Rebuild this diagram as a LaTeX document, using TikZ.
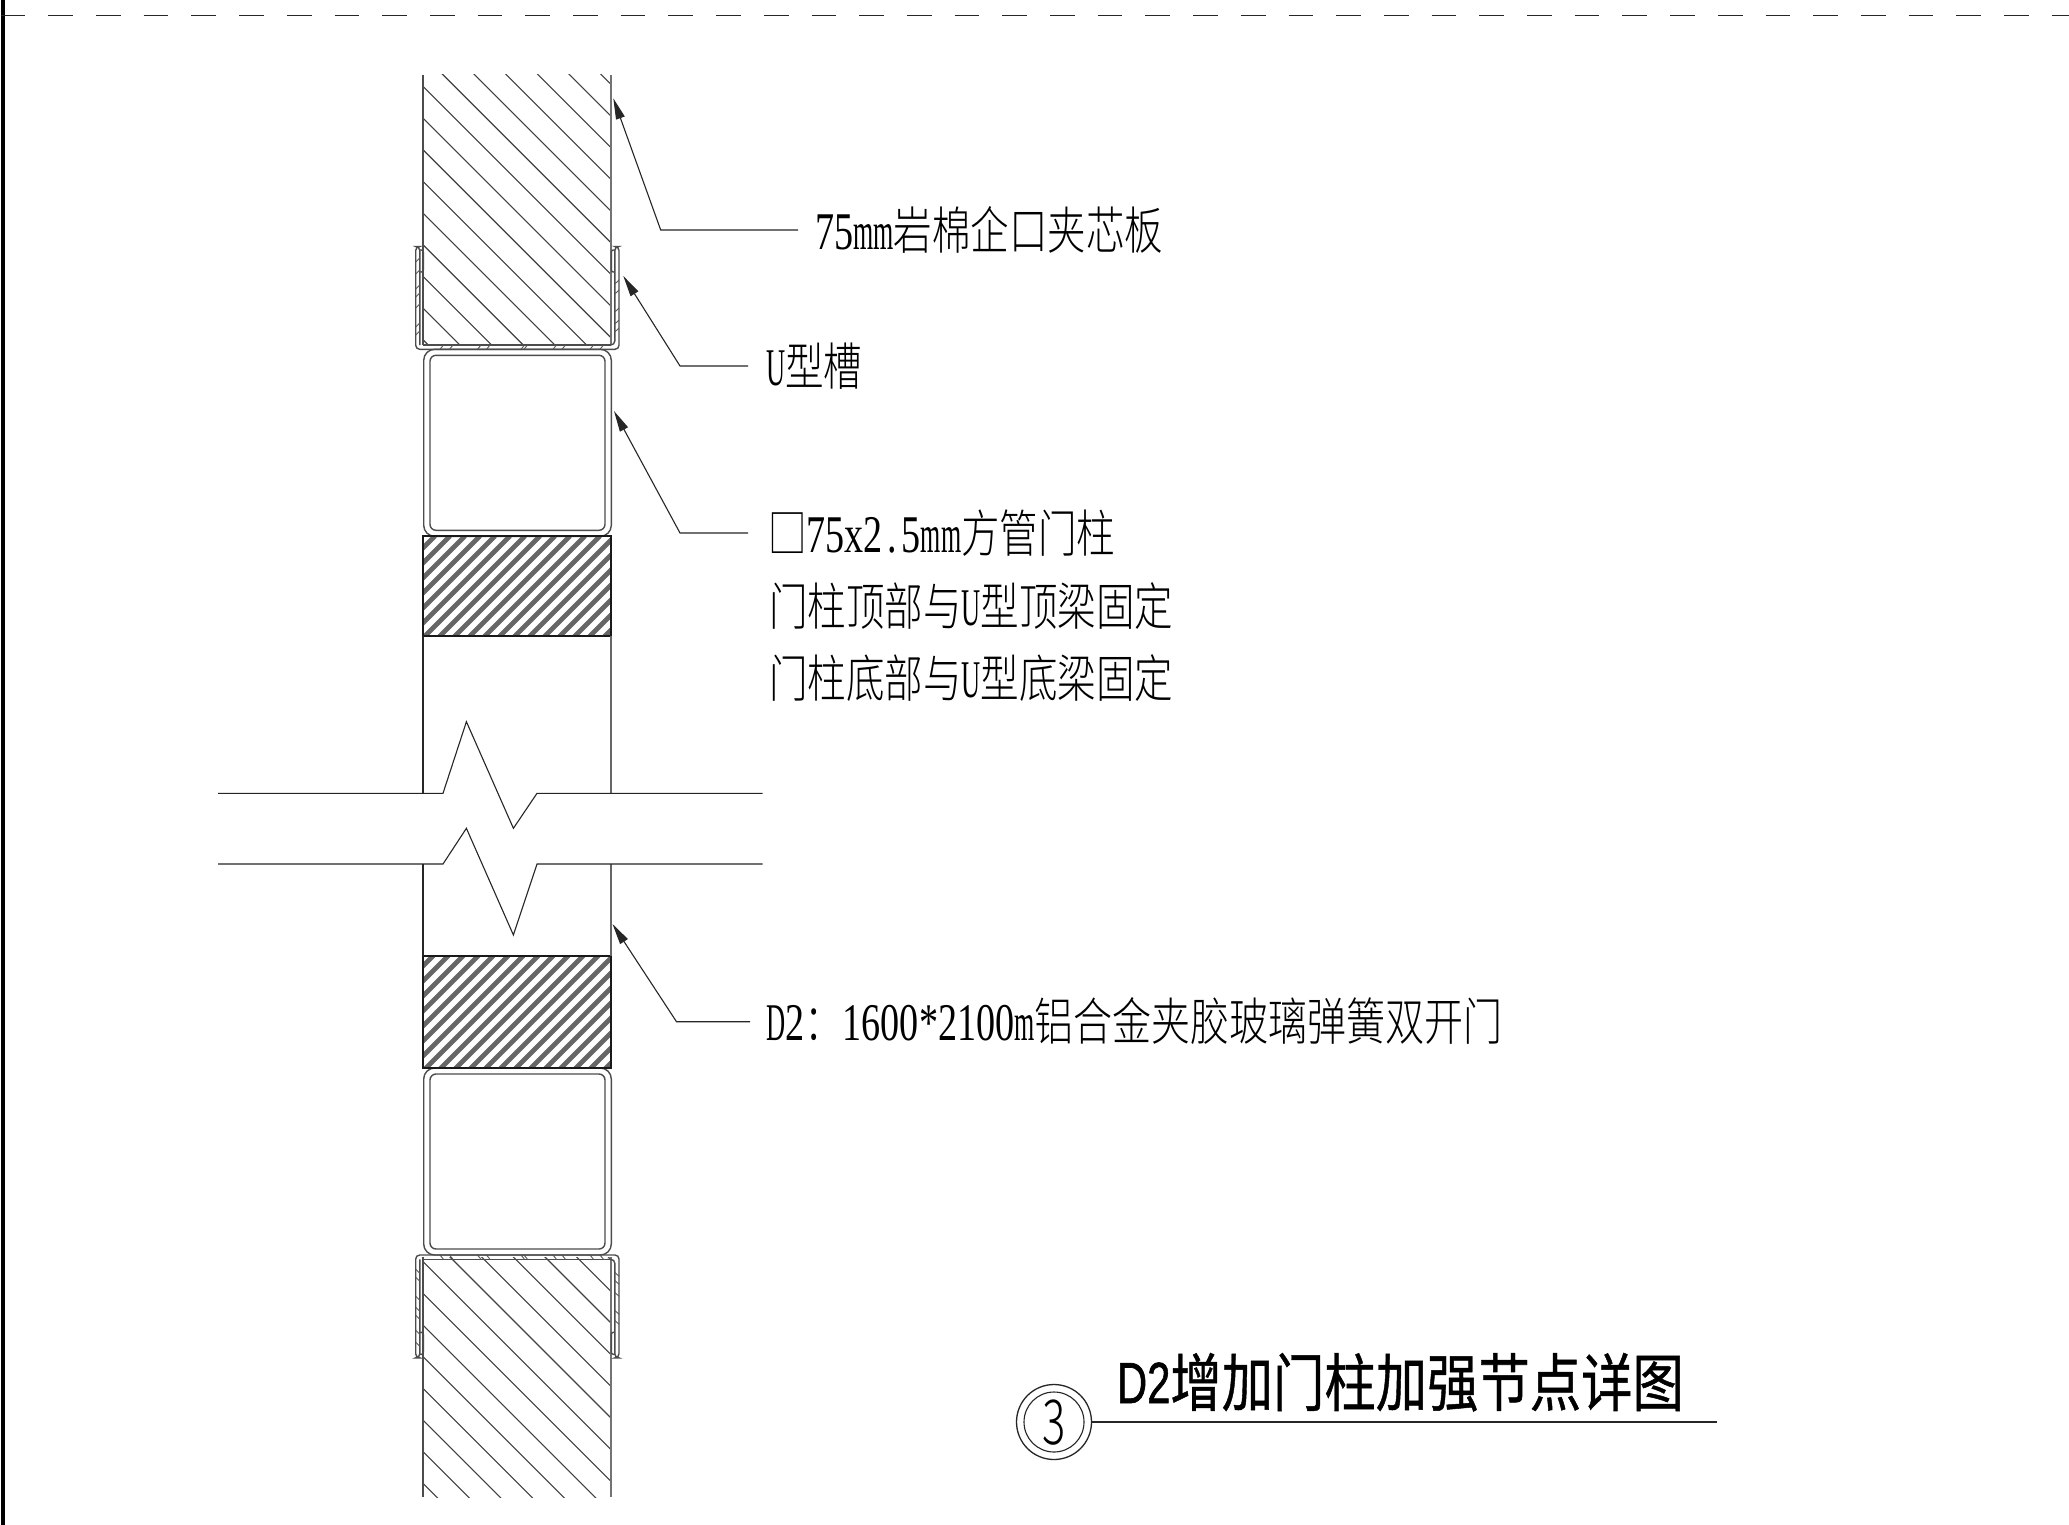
\documentclass[tikz,border=0pt]{standalone}
\usepackage{fontspec}
\usepackage{graphicx}
\usetikzlibrary{arrows.meta}
\IfFontExistsTF{Noto Sans CJK SC Light}{\newfontfamily\cjkf{Noto Sans CJK SC Light}}{\newfontfamily\cjkf{Noto Sans CJK SC}}
\newfontfamily\cjkt[FakeBold=0.8]{Noto Sans CJK SC}
\newfontfamily\latf{Liberation Serif}
\newfontfamily\sanf[FakeBold=1.2]{Liberation Sans}
\newcommand\cjs[2]{\scalebox{#1}[1]{\fontsize{51}{51}\cjkf\selectfont #2}}
\newcommand\cj[1]{\cjs{.755}{#1}}
\newcommand\lt[2]{\scalebox{#1}[1]{\fontsize{53}{53}\latf\selectfont #2}}
\newcommand\dg[1]{\lt{.72}{#1}}
\newcommand\mmm{\lt{.49}{m}}
\newcommand\UU{\lt{.5}{U}}
\newcommand\DD{\lt{.5}{D}}
\newcommand\pd{\makebox[19pt][c]{\lt{.72}{.}}}
\tikzset{
  thinline/.style={line width=1.1pt,black!85},
  wallline/.style={line width=2pt,black!70},
  tubeline/.style={line width=1.4pt,black!70},
  edgeline/.style={line width=2pt,black!90},
  tickline/.style={line width=.9pt,black!65},
  leader/.style={line width=1.1pt,black!85,{Triangle[length=21pt,width=9pt]}-},
  label/.style={anchor=base west,inner sep=0pt,outer sep=0pt},
}
\newcommand\tubeat[1]{%
  \draw[tubeline,rounded corners=11pt] (423.7,#1) rectangle (611.3,#1+187);
  \draw[tubeline,rounded corners=6pt] (430,#1+6) rectangle (605,#1+181);
}
\newcommand\hatchblock[3]{%
  \begin{scope}
    \clip (423,#1) rectangle (611,#2);
    \foreach \k in {-3,...,24}
      \draw[line width=4.8pt,black!60] ({#3+\k*15-#1},#1) -- ++(-140,140);
  \end{scope}
  \draw[edgeline] (423,#1) rectangle (611,#2);
}
\newcommand\channel{%
  \draw[tubeline] (423.3,345) -- (611.3,345);
  \draw[tubeline,rounded corners=4pt] (419.8,345) -- (419.8,246.5) -- (415.7,246.5) -- (415.7,349.3) -- (619,349.3) -- (619,246.5) -- (614.8,246.5) -- (614.8,345) -- (611.3,345);
  \draw[tubeline,rounded corners=2pt] (419.8,250) -- (423.3,250) -- (423.3,272) -- (419.8,272);
  \draw[tubeline,rounded corners=2pt] (614.8,250) -- (611.3,250) -- (611.3,272) -- (614.8,272);
  \foreach \t in {260,272,287,295,306,325,333}
    \draw[tickline] (415.7,\t+2) -- (419.8,\t-2);
  \foreach \t in {282,292,310,322,330}
    \draw[tickline] (614.8,\t+2) -- (619,\t-2);
  \foreach \t in {440,449.5,477.5,486.5,521,524,553,562,590,600}
    \draw[tickline] (\t,349.3) -- (\t+3.5,345);
}
\begin{document}
\begin{tikzpicture}[x=1pt,y=-1pt]
\useasboundingbox (0,0) rectangle (2069,1525);
\fill[white] (0,0) rectangle (2069,1525);
% sheet border
\draw[line width=4.5pt,black] (3.2,0) -- (3.2,1525);
\draw[line width=1.3pt,black!85,dash pattern=on 24.7pt off 23pt] (0.6,15.8) -- (2069,15.8);
% panels
\begin{scope}
  \clip (423.3,75) rectangle (611.3,345);
  \foreach \k in {-7,...,17}
    \draw[thinline,black!75] (423.3,{423.3+(-336.6+\k*31.67)}) -- ++(300,300);
\end{scope}
\begin{scope}
  \clip (423.3,1257.3) rectangle (611.3,1497);
  \foreach \k in {-10,...,10}
    \draw[thinline,black!75] (423.3,{423.3+(933.7+\k*31.67)}) -- ++(300,300);
\end{scope}
\draw[wallline] (423.3,75) -- (423.3,345);
\draw[wallline,black!55] (611.3,75) -- (611.3,345);
\draw[wallline] (423.3,1257.3) -- (423.3,1497);
\draw[wallline,black!55] (611.3,1257.3) -- (611.3,1497);
% channels
\channel
\begin{scope}[shift={(0,1604.3)},yscale=-1]
  \channel
\end{scope}
% tubes
\tubeat{349.3}
\tubeat{1068}
% door leaf blocks
\hatchblock{536}{636}{971}
\hatchblock{955.7}{1067.7}{1389}
% door leaf
\draw[thinline] (423,636) -- (423,793.3);
\draw[thinline,black!60,line width=1.5pt] (611,636) -- (611,793.3);
\draw[thinline] (423,864) -- (423,955.7);
\draw[thinline,black!60,line width=1.5pt] (611,864) -- (611,955.7);
% break lines
\draw[thinline,line join=miter] (218,793.3) -- (443,793.3) -- (466.4,721.7) -- (513.4,828.3) -- (537,793.3) -- (762.5,793.3);
\draw[thinline,line join=miter] (218,864) -- (443,864) -- (466.4,828.3) -- (513.4,935) -- (537,864) -- (762.5,864);
% labels
\node[label] (l1) at (815,249) {\dg{75}\mmm\mmm\cj{岩棉企口夹芯板}};
\node[label] (l2) at (766,385) {\UU\cj{型槽}};
\node[label] (l3) at (768,552) {\cj{□}\dg{75x2}\pd\dg{5}\mmm\mmm\cj{方管门柱}};
\node[label] (l4) at (769,625) {\cj{门柱顶部与}\UU\cj{型顶梁固定}};
\node[label] (l5) at (769,697) {\cj{门柱底部与}\UU\cj{型底梁固定}};
\node[label] (l6) at (766,1040) {\DD\dg{2}\cj{：}\dg{1600*2100}\mmm\cjs{.765}{铝合金夹胶玻璃弹簧双开门}};
% leaders
\coordinate (t1) at (613.3,98.3);  \coordinate (e1) at (660.7,230);  \coordinate (f1) at (798,230);
\coordinate (t2) at (623.3,276);   \coordinate (e2) at (680,366);    \coordinate (f2) at (748,366);
\coordinate (t3) at (614,411);     \coordinate (e3) at (680,533);    \coordinate (f3) at (748,533);
\coordinate (t4) at (612.5,924);   \coordinate (e4) at (676.5,1021.7); \coordinate (f4) at (750,1021.7);
\draw[leader] (t1) -- (e1) -- (f1);
\draw[leader] (t2) -- (e2) -- (f2);
\draw[leader] (t3) -- (e3) -- (f3);
\draw[leader] (t4) -- (e4) -- (f4);
% title
\coordinate (uline) at (1717,1422);
\node[draw,circle,line width=1.3pt,black!85,minimum size=75pt,inner sep=0pt] (cout) at (1054,1422) {};
\node[draw,circle,line width=1.1pt,black!85,minimum size=60pt,inner sep=0pt] (cin) at (1054,1422) {};
\node[inner sep=0pt] (num) at (1054,1423) {\scalebox{.7}[1]{\fontsize{62}{62}\cjkf\selectfont 3}};
\draw[thinline] (cout.east) -- (uline);
\node[label] (title) at (1117,1406) {\raisebox{3pt}{\scalebox{.72}[1]{\fontsize{58}{58}\sanf\selectfont D2}}\scalebox{.815}[1]{\fontsize{63}{63}\cjkt\selectfont 增加门柱加强节点详图}};
\end{tikzpicture}
\end{document}
